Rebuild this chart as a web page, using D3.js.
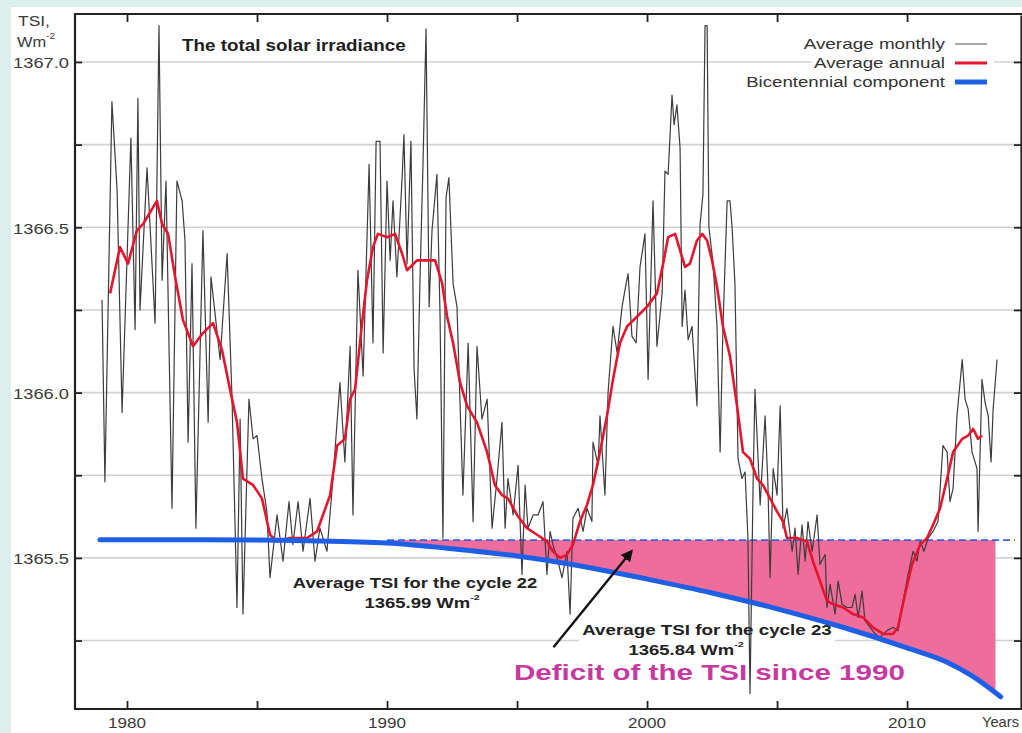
<!DOCTYPE html>
<html>
<head>
<meta charset="utf-8">
<script src="https://cdn.jsdelivr.net/npm/d3@7"></script>
<style>
  html, body { margin: 0; padding: 0; background: #dcefec; }
  svg { display: block; }
</style>
</head>
<body>
<svg id="chart" width="1022" height="733"></svg>
<script>
// ---- Total solar irradiance, monthly means (year, W/m^2) ----
const monthlyYear = [
  1979.04,1979.15,1979.42,1979.62,1979.81,1980.15,1980.31,1980.42,1980.50,1980.77,
  1981.08,1981.23,1981.35,1981.50,1981.73,1981.92,1982.12,1982.23,1982.35,1982.50,
  1982.65,1982.92,1983.12,1983.23,1983.58,1983.85,1984.04,1984.23,1984.35,1984.46,
  1984.69,1984.85,1985.00,1985.19,1985.38,1985.50,1985.77,1986.00,1986.23,1986.38,
  1986.58,1986.77,1987.04,1987.23,1987.42,1987.69,1987.92,1988.19,1988.38,1988.58,
  1988.69,1988.88,1989.08,1989.31,1989.46,1989.58,1989.73,1989.85,1990.00,1990.12,
  1990.23,1990.38,1990.58,1990.65,1990.77,1990.92,1991.04,1991.15,1991.27,1991.38,
  1991.50,1991.62,1991.73,1991.92,1992.04,1992.15,1992.27,1992.38,1992.54,1992.69,
  1992.92,1993.12,1993.31,1993.46,1993.65,1993.85,1994.04,1994.23,1994.42,1994.54,
  1994.65,1994.85,1995.04,1995.19,1995.31,1995.42,1995.62,1995.81,1996.00,1996.15,
  1996.27,1996.38,1996.54,1996.73,1996.92,1997.04,1997.15,1997.35,1997.54,1997.69,
  1997.88,1997.92,1998.12,1998.19,1998.38,1998.50,1998.69,1998.85,1999.04,1999.15,
  1999.27,1999.42,1999.58,1999.73,1999.92,2000.04,2000.23,2000.38,2000.58,2000.69,
  2000.81,2000.96,2001.04,2001.15,2001.27,2001.35,2001.46,2001.58,2001.73,2001.92,
  2002.04,2002.15,2002.23,2002.31,2002.38,2002.54,2002.69,2002.81,2002.92,2003.08,
  2003.19,2003.27,2003.38,2003.50,2003.65,2003.77,2003.88,2003.96,2004.08,2004.15,
  2004.27,2004.35,2004.54,2004.65,2004.73,2004.85,2005.00,2005.12,2005.23,2005.38,
  2005.58,2005.69,2005.81,2005.96,2006.08,2006.19,2006.35,2006.54,2006.65,2006.85,
  2006.92,2007.04,2007.23,2007.35,2007.50,2007.69,2007.88,2008.00,2008.12,2008.27,
  2008.38,2008.58,2008.77,2008.96,2009.23,2009.46,2009.65,2009.85,2010.04,2010.23,
  2010.38,2010.50,2010.65,2010.81,2011.00,2011.19,2011.38,2011.54,2011.65,2011.77,
  2011.92,2012.12,2012.23,2012.35,2012.50,2012.69,2012.73,2012.88,2013.00,2013.12,
  2013.23,2013.31,2013.46
];
const monthlyTSI = [
  1366.28,1365.73,1366.88,1366.61,1365.94,1366.77,1366.19,1366.89,1366.25,1366.68,
  1366.21,1367.11,1366.34,1366.64,1365.65,1366.64,1366.58,1366.46,1365.85,1366.39,
  1365.59,1366.49,1365.91,1366.35,1366.10,1366.42,1365.98,1365.35,1365.92,1365.33,
  1365.98,1365.86,1365.87,1365.74,1365.64,1365.44,1365.63,1365.49,1365.67,1365.54,
  1365.67,1365.52,1365.68,1365.49,1365.59,1365.52,1365.74,1366.03,1365.79,1366.14,
  1365.63,1366.37,1366.05,1366.69,1366.15,1366.76,1366.76,1366.12,1366.64,1366.40,
  1366.58,1366.35,1366.65,1366.78,1366.39,1366.76,1366.07,1365.92,1366.35,1366.68,
  1367.10,1366.26,1366.49,1366.66,1366.23,1365.56,1366.59,1366.65,1366.33,1366.26,
  1365.69,1366.15,1365.61,1366.14,1365.92,1365.98,1365.59,1365.74,1365.91,1365.59,
  1365.74,1365.63,1365.78,1365.45,1365.72,1365.59,1365.63,1365.63,1365.67,1365.45,
  1365.58,1365.54,1365.50,1365.44,1365.52,1365.33,1365.62,1365.65,1365.58,1365.65,
  1365.61,1365.85,1365.78,1365.93,1365.69,1366.00,1366.20,1366.12,1366.26,1366.31,
  1366.36,1366.17,1366.15,1366.38,1366.48,1366.04,1366.58,1366.14,1366.30,1366.67,
  1366.66,1366.90,1366.81,1366.87,1366.74,1366.20,1366.31,1366.16,1366.20,1365.96,
  1366.51,1366.60,1367.11,1367.11,1366.50,1366.39,1366.20,1365.82,1366.20,1366.58,
  1366.58,1366.50,1366.33,1365.80,1365.74,1365.76,1365.56,1365.09,1365.73,1366.01,
  1365.80,1365.66,1365.93,1365.72,1365.44,1365.77,1365.69,1365.96,1365.59,1365.65,
  1365.52,1365.59,1365.45,1365.60,1365.49,1365.61,1365.52,1365.63,1365.48,1365.51,
  1365.35,1365.42,1365.33,1365.43,1365.36,1365.35,1365.35,1365.39,1365.32,1365.40,
  1365.31,1365.29,1365.27,1365.26,1365.28,1365.29,1365.28,1365.37,1365.45,1365.52,
  1365.49,1365.55,1365.52,1365.56,1365.58,1365.61,1365.84,1365.82,1365.67,1365.71,
  1365.93,1366.10,1365.98,1365.95,1365.82,1365.77,1365.58,1366.04,1365.97,1365.93,
  1365.79,1365.95,1366.10
];

// ---- Running annual mean ----
const annualYear = [
  1979.35,1979.73,1980.04,1980.38,1980.62,1981.15,1981.35,1981.58,1981.85,1982.15,
  1982.54,1982.92,1983.31,1983.65,1983.96,1984.23,1984.46,1984.85,1985.19,1985.50,
  1985.77,1986.27,1986.92,1987.31,1987.81,1988.08,1988.38,1988.58,1988.77,1989.04,
  1989.23,1989.46,1989.65,1990.00,1990.31,1990.58,1990.77,1991.15,1991.54,1991.85,
  1992.12,1992.31,1992.54,1992.81,1993.08,1993.46,1993.85,1994.15,1994.42,1994.65,
  1995.00,1995.38,1995.77,1996.15,1996.38,1996.65,1996.92,1997.15,1997.42,1997.69,
  1997.92,1998.19,1998.46,1998.69,1998.96,1999.23,1999.62,2000.00,2000.38,2000.62,
  2000.81,2001.08,2001.27,2001.46,2001.65,2001.92,2002.12,2002.31,2002.50,2002.69,
  2002.92,2003.19,2003.46,2003.69,2003.96,2004.23,2004.46,2004.73,2005.00,2005.23,
  2005.38,2005.77,2006.15,2006.38,2006.65,2006.92,2007.15,2007.54,2007.92,2008.31,
  2008.69,2009.08,2009.46,2009.65,2009.92,2010.19,2010.50,2010.77,2011.00,2011.27,
  2011.54,2011.77,2012.12,2012.35,2012.54,2012.73,2012.88
];
const annualTSI = [
  1366.30,1366.44,1366.39,1366.49,1366.51,1366.58,1366.51,1366.48,1366.35,1366.22,
  1366.14,1366.18,1366.21,1366.13,1366.01,1365.91,1365.74,1365.72,1365.68,1365.57,
  1365.55,1365.56,1365.56,1365.58,1365.69,1365.84,1365.86,1365.98,1366.01,1366.21,
  1366.34,1366.44,1366.48,1366.47,1366.48,1366.42,1366.37,1366.40,1366.40,1366.40,
  1366.33,1366.23,1366.15,1366.03,1365.96,1365.91,1365.82,1365.72,1365.69,1365.68,
  1365.63,1365.59,1365.57,1365.55,1365.52,1365.50,1365.51,1365.54,1365.61,1365.66,
  1365.72,1365.82,1365.93,1366.04,1366.15,1366.20,1366.23,1366.26,1366.30,1366.39,
  1366.47,1366.48,1366.43,1366.38,1366.39,1366.46,1366.48,1366.46,1366.40,1366.32,
  1366.20,1366.11,1365.96,1365.82,1365.80,1365.74,1365.72,1365.68,1365.64,1365.61,
  1365.56,1365.56,1365.55,1365.49,1365.43,1365.37,1365.36,1365.35,1365.33,1365.32,
  1365.29,1365.27,1365.27,1365.29,1365.39,1365.48,1365.54,1365.56,1365.60,1365.65,
  1365.74,1365.82,1365.86,1365.87,1365.89,1365.86,1365.87
];

// ---- Bicentennial component ----
const bicentYear = [1978.96,1983,1987,1990,1992.5,1995,1997.5,2000,2002.5,2005,2007.5,2010,2011.5,2012.5,2013.6];
const bicentTSI  = [1365.555,1365.555,1365.552,1365.545,1365.528,1365.506,1365.475,1365.436,1365.394,1365.346,1365.291,1365.228,1365.186,1365.143,1365.080];

// Level of the component before 1990 and span of the deficit shading
const baseLevel = 1365.554;
const deficitFrom = 1990, deficitTo = 2013.4, baseLineTo = 2014.15;

// Axis ticks
const yGridValues = [1365.25, 1365.5, 1365.75, 1366.0, 1366.25, 1366.5, 1366.75, 1367.0];
const yLabelValues = [1365.5, 1366.0, 1366.5, 1367.0];
const xTickValues = [1980, 1985, 1990, 1995, 2000, 2005, 2010];
const xLabelValues = [1980, 1990, 2000, 2010];

const FONT = "'Liberation Sans', Arial, sans-serif";
const svg = d3.select("#chart");

// page and plot background
svg.append("rect").attr("x", 11).attr("y", 7).attr("width", 1011).attr("height", 726).attr("fill", "#ffffff");

const x = d3.scaleLinear().domain([1978, 2014.42]).range([75, 1022]);
const y = d3.scaleLinear().domain([1365.043, 1367.142]).range([709, 15]);

// horizontal grid
svg.append("g").selectAll("line").data(yGridValues).join("line")
  .attr("x1", 76).attr("x2", 1022)
  .attr("y1", d => y(d)).attr("y2", d => y(d))
  .attr("stroke", "#d2d2d2").attr("stroke-width", 1.6);

// text helper: draws text, then stretches it horizontally to a given width
function label(parent, parts, px, py, anchor, width, opts) {
  const g = parent.append("g");
  const t = g.append("text")
    .attr("text-anchor", anchor)
    .attr("dominant-baseline", "central")
    .attr("font-family", FONT)
    .attr("font-size", opts.size)
    .attr("font-weight", opts.weight || "normal")
    .attr("fill", opts.color || "#333");
  parts.forEach(p => {
    if (typeof p === "string") t.append("tspan").text(p);
    else t.append("tspan").attr("font-size", p.size).attr("dy", p.dy).text(p.text);
  });
  const w = t.node().getBBox().width;
  const sx = width ? width / w : 1;
  g.attr("transform", `translate(${px},${py}) scale(${sx},1)`);
  return g;
}

// white boxes behind the cycle annotations
svg.append("rect").attr("x", 288).attr("y", 572).attr("width", 255).attr("height", 40).attr("fill", "#fff");
svg.append("rect").attr("x", 579).attr("y", 621).attr("width", 256).attr("height", 38).attr("fill", "#fff");

// deficit shading between the pre-1990 level and the bicentennial curve
svg.append("clipPath").attr("id", "deficitClip")
  .append("rect")
  .attr("x", x(deficitFrom)).attr("y", 0)
  .attr("width", x(deficitTo) - x(deficitFrom)).attr("height", 733);

const bicent = bicentYear.map((yr, i) => ({ year: yr, v: bicentTSI[i] }));
svg.append("path")
  .datum(bicent)
  .attr("clip-path", "url(#deficitClip)")
  .attr("fill", "#ee6d9b")
  .attr("d", d3.area().curve(d3.curveMonotoneX)
    .x(d => x(d.year)).y0(y(baseLevel)).y1(d => y(d.v)));

// dashed continuation of the pre-1990 level
svg.append("line")
  .attr("x1", x(deficitFrom)).attr("x2", x(baseLineTo))
  .attr("y1", y(baseLevel)).attr("y2", y(baseLevel))
  .attr("stroke", "#3b5fe0").attr("stroke-width", 1.8).attr("stroke-dasharray", "7,4");

// monthly series
const monthly = monthlyYear.map((yr, i) => ({ year: yr, v: monthlyTSI[i] }));
svg.append("path").datum(monthly)
  .attr("fill", "none").attr("stroke", "#3c3c3c").attr("stroke-width", 1.2)
  .attr("stroke-linejoin", "round")
  .attr("d", d3.line().x(d => x(d.year)).y(d => y(d.v)));

// annual series
const annual = annualYear.map((yr, i) => ({ year: yr, v: annualTSI[i] }));
svg.append("path").datum(annual)
  .attr("fill", "none").attr("stroke", "#e4152e").attr("stroke-width", 2.6)
  .attr("stroke-linejoin", "round")
  .attr("d", d3.line().x(d => x(d.year)).y(d => y(d.v)));

// bicentennial component
svg.append("path").datum(bicent)
  .attr("fill", "none").attr("stroke", "#1f5fe6").attr("stroke-width", 5)
  .attr("stroke-linecap", "round")
  .attr("d", d3.line().curve(d3.curveMonotoneX).x(d => x(d.year)).y(d => y(d.v)));

// axes: ticks point inward on all four sides
const axisColor = "#222";
const axisL = svg.append("g").attr("transform", "translate(75,0)")
  .call(d3.axisLeft(y).tickValues(yGridValues).tickSizeInner(-7).tickSizeOuter(0).tickFormat(() => ""));
const axisR = svg.append("g").attr("transform", "translate(1021,0)")
  .call(d3.axisRight(y).tickValues(yGridValues).tickSizeInner(-7).tickSizeOuter(0).tickFormat(() => ""));
const axisB = svg.append("g").attr("transform", "translate(0,709)")
  .call(d3.axisBottom(x).tickValues(xTickValues).tickSizeInner(-8).tickSizeOuter(0).tickFormat(() => ""));
const axisT = svg.append("g").attr("transform", "translate(0,14)")
  .call(d3.axisTop(x).tickValues(xTickValues).tickSizeInner(-8).tickSizeOuter(0).tickFormat(() => ""));
[axisL, axisR, axisB, axisT].forEach(a => {
  a.selectAll("path.domain").attr("stroke", axisColor).attr("stroke-width", 2.2);
  a.selectAll(".tick line").attr("stroke", axisColor).attr("stroke-width", 1.8);
});
axisL.select("path.domain").attr("d", "M0,13V710");
axisB.select("path.domain").attr("d", "M74,0H1022");
axisT.select("path.domain").attr("d", "M74,0H1022");

// tick labels
yLabelValues.forEach(v => label(svg, [v.toFixed(1)], 69, y(v) + 1, "end", 56, { size: 15, color: "#3a3a3a" }));
xLabelValues.forEach(v => label(svg, [String(v)], x(v), 722, "middle", 38, { size: 15, color: "#3a3a3a" }));
label(svg, ["Years"], 982, 722, "start", 37, { size: 15, color: "#3a3a3a" });

// axis unit
label(svg, ["TSI,"], 18, 20, "start", 32, { size: 15, color: "#3a3a3a" });
label(svg, ["Wm", { text: "-2", size: 9, dy: -6 }], 17, 41, "start", 38, { size: 15, color: "#3a3a3a" });

// title
label(svg, ["The total solar irradiance"], 182, 46, "start", 224, { size: 16, weight: "bold", color: "#1e1e1e" });

// legend
const legendRows = [
  { text: "Average monthly", yPos: 44, width: 142, stroke: "#a8a8a8", sw: 2 },
  { text: "Average annual", yPos: 63, width: 131, stroke: "#e4152e", sw: 3 },
  { text: "Bicentennial component", yPos: 82, width: 200, stroke: "#1f5fe6", sw: 5 }
];
legendRows.forEach(r => {
  svg.append("rect").attr("x", 945 - r.width - 3).attr("y", r.yPos - 8)
    .attr("width", r.width + 52).attr("height", 16).attr("fill", "#fff");
  label(svg, [r.text], 945, r.yPos, "end", r.width, { size: 15, color: "#333" });
  svg.append("line").attr("x1", 955).attr("x2", 987).attr("y1", r.yPos).attr("y2", r.yPos)
    .attr("stroke", r.stroke).attr("stroke-width", r.sw);
});

// cycle annotations
label(svg, ["Average TSI for the cycle 22"], 415, 583, "middle", 245, { size: 14, weight: "bold", color: "#222" });
label(svg, ["1365.99 Wm", { text: "-2", size: 8, dy: -6 }], 422, 603, "middle", 116, { size: 14, weight: "bold", color: "#222" });
label(svg, ["Average TSI for the cycle 23"], 707, 630, "middle", 250, { size: 14, weight: "bold", color: "#222" });
label(svg, ["1365.84 Wm", { text: "-2", size: 8, dy: -6 }], 686, 650, "middle", 116, { size: 14, weight: "bold", color: "#222" });

// arrow towards the deficit area
svg.append("defs").append("marker")
  .attr("id", "arrowHead").attr("viewBox", "0 0 10 10")
  .attr("refX", 8).attr("refY", 5).attr("markerWidth", 5).attr("markerHeight", 5)
  .attr("orient", "auto")
  .append("path").attr("d", "M0,0L10,5L0,10z").attr("fill", "#111");
svg.append("line")
  .attr("x1", x(1996.4)).attr("y1", y(1365.23))
  .attr("x2", x(1999.4)).attr("y2", y(1365.52))
  .attr("stroke", "#111").attr("stroke-width", 2.4)
  .attr("marker-end", "url(#arrowHead)");

// deficit caption
label(svg, ["Deficit of the TSI since 1990"], 514, 672, "start", 391, { size: 22, weight: "bold", color: "#c53a9f" });
</script>
</body>
</html>
